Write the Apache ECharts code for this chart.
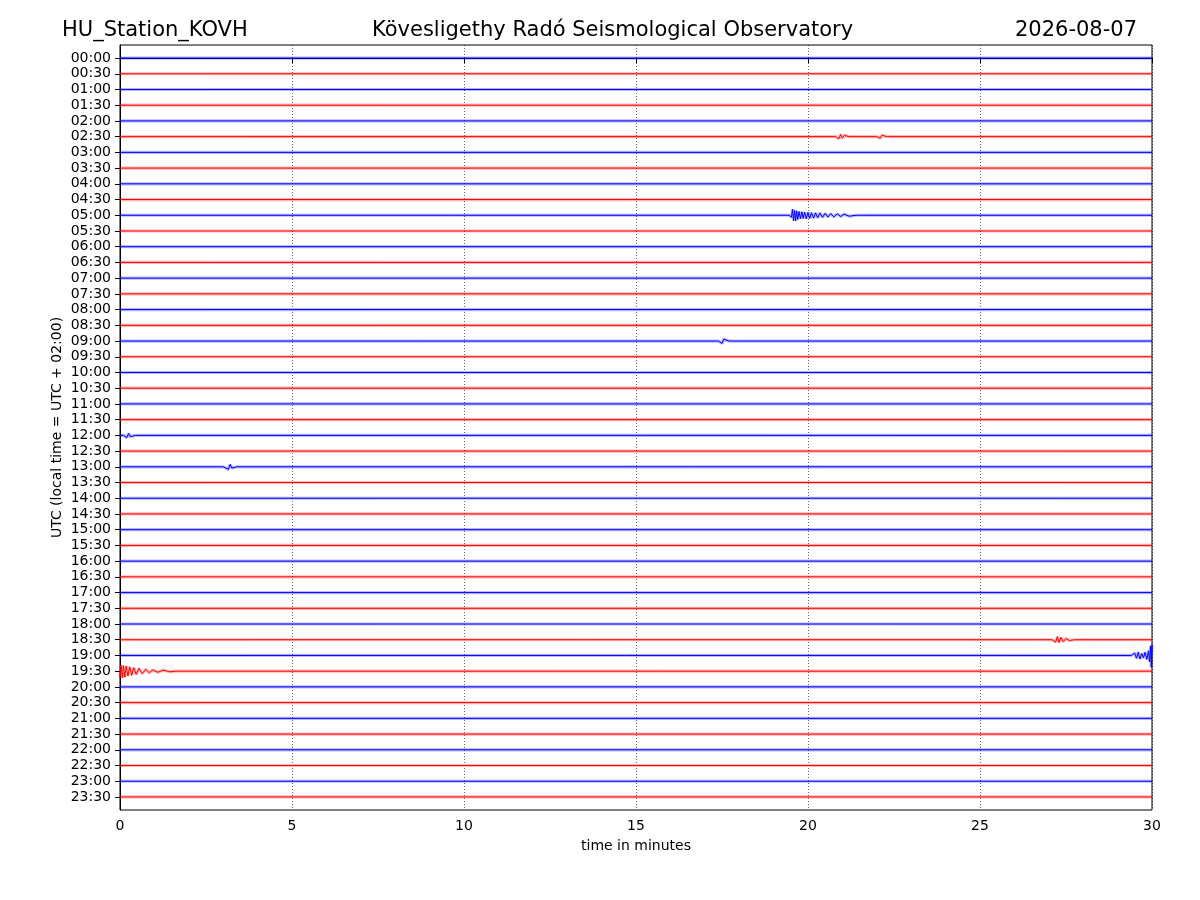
<!DOCTYPE html>
<html>
<head>
<meta charset="utf-8">
<script src="https://cdn.jsdelivr.net/npm/echarts@6/dist/echarts.min.js"></script>
<style>
  html, body { margin: 0; padding: 0; background: #fff; }
  #helicorder { width: 1200px; height: 900px; }
</style>
</head>
<body>
<div id="helicorder"></div>
<script>
// trace row labels (UTC start of each 30 min line)
var rowLabels = [
    '00:00', '00:30', '01:00', '01:30', '02:00', '02:30', '03:00', '03:30',
    '04:00', '04:30', '05:00', '05:30', '06:00', '06:30', '07:00', '07:30',
    '08:00', '08:30', '09:00', '09:30', '10:00', '10:30', '11:00', '11:30',
    '12:00', '12:30', '13:00', '13:30', '14:00', '14:30', '15:00', '15:30',
    '16:00', '16:30', '17:00', '17:30', '18:00', '18:30', '19:00', '19:30',
    '20:00', '20:30', '21:00', '21:30', '22:00', '22:30', '23:00', '23:30'
];
var xTicks = [0, 5, 10, 15, 20, 25, 30];

// visible wiggles, [minute, amplitude in trace-spacing units]
var ev0230 = [[20.8, 0], [20.9, 0.13], [20.95, -0.15], [21.0, 0.1], [21.05, -0.08], [21.2, 0],
    [22.0, 0], [22.1, 0.1], [22.15, -0.09], [22.3, 0]];
var ev0500 = [[19.45, 0], [19.52, 0.12], [19.55, -0.38], [19.58, 0.34], [19.61, -0.3], [19.64, 0.36],
    [19.67, -0.28], [19.7, 0.26], [19.74, -0.24], [19.78, 0.22], [19.82, -0.22], [19.86, 0.2],
    [19.9, -0.2], [19.95, 0.22], [20.0, -0.18], [20.05, 0.2], [20.1, -0.16], [20.16, 0.18],
    [20.22, -0.15], [20.28, 0.16], [20.35, -0.14], [20.42, 0.13], [20.5, -0.12], [20.58, 0.11],
    [20.66, -0.1], [20.75, 0.1], [20.85, -0.09], [20.95, 0.08], [21.05, -0.07], [21.2, 0.06], [21.4, 0]];
var ev0900 = [[17.4, 0], [17.5, 0.15], [17.55, -0.12], [17.7, 0]];
var ev1200 = [[0.1, 0], [0.2, 0.14], [0.25, -0.12], [0.3, 0.08], [0.45, 0]];
var ev1300 = [[3.0, 0], [3.15, 0.16], [3.2, -0.15], [3.25, 0.08], [3.4, 0]];
var ev1830 = [[27.1, 0], [27.2, 0.15], [27.25, -0.19], [27.3, 0.17], [27.35, -0.14], [27.42, 0.12],
    [27.5, -0.08], [27.6, 0.05], [27.75, 0]];
var ev1900 = [[29.4, 0], [29.45, 0.1], [29.5, -0.15], [29.55, 0.18], [29.6, -0.2], [29.65, 0.22],
    [29.7, -0.12], [29.75, 0.15], [29.8, -0.2], [29.85, 0.25], [29.9, -0.3], [29.93, 0.4],
    [29.96, -0.6], [29.98, 0.75], [30, -0.7]];
var ev1930 = [[0, 0.4], [0.03, -0.38], [0.07, 0.42], [0.1, -0.35], [0.14, 0.38], [0.18, -0.32],
    [0.23, 0.3], [0.28, -0.28], [0.34, 0.26], [0.4, -0.22], [0.47, 0.2], [0.55, -0.18],
    [0.65, 0.15], [0.75, -0.12], [0.85, 0.1], [0.95, -0.08], [1.1, 0.07], [1.25, -0.06],
    [1.45, 0.04], [1.6, 0]];

// which row each wiggle sits on
var eventRows = [[5, ev0230], [10, ev0500], [18, ev0900], [24, ev1200], [26, ev1300],
    [37, ev1830], [38, ev1900], [39, ev1930]];

var rowIndex = rowLabels.map(function (lab, i) { return i; });

var chart = echarts.init(document.getElementById('helicorder'), null, { renderer: 'canvas' });

function traceData(i) {
    var pts = [];
    eventRows.forEach(function (e) {
        if (e[0] === i) pts = e[1];
    });
    var data = [];
    if (!pts.length || pts[0][0] > 0) data.push([0, i]);
    pts.forEach(function (p) { data.push([p[0], i + p[1]]); });
    if (!pts.length || pts[pts.length - 1][0] < 30) data.push([30, i]);
    return data;
}

var series = [];
rowLabels.forEach(function (lab, i) {
    var col = i % 2 === 0 ? '#0000ff' : '#ff0000';
    var data = traceData(i);
    // soft band for the background noise
    series.push({
        name: lab + ' band',
        type: 'line',
        data: data,
        showSymbol: false,
        silent: true,
        animation: false,
        lineStyle: { color: col, width: 3.2, opacity: 0.28 }
    });
    series.push({
        name: lab,
        type: 'line',
        data: data,
        showSymbol: false,
        silent: true,
        animation: false,
        lineStyle: { color: col, width: 1 }
    });
});

var titleFont = { fontSize: 21, fontWeight: 'normal', color: '#000' };

var option = {
    backgroundColor: '#ffffff',
    textStyle: { fontFamily: 'DejaVu Sans' },
    title: [
        { text: 'HU_Station_KOVH', left: 57, top: 15, textStyle: titleFont },
        { text: 'Kövesligethy Radó Seismological Observatory', left: 367, top: 15, textStyle: titleFont },
        { text: '2026-08-07', right: 58, top: 15, textStyle: titleFont }
    ],
    grid: {
        left: 120, right: 48, top: 45, bottom: 90,
        show: true, borderColor: '#000', borderWidth: 1, backgroundColor: 'transparent'
    },
    xAxis: {
        type: 'value',
        min: xTicks[0],
        max: xTicks[xTicks.length - 1],
        interval: 5,
        name: 'time in minutes',
        nameLocation: 'middle',
        nameGap: 29,
        nameTextStyle: { fontSize: 14, color: '#000' },
        axisLine: { show: true, lineStyle: { color: '#000', width: 1 } },
        axisTick: { show: true, length: 5, lineStyle: { color: '#000' } },
        axisLabel: { fontSize: 14, color: '#000', margin: 9 },
        splitLine: { show: true, lineStyle: { color: '#000', type: [1, 2], width: 0.6 } }
    },
    yAxis: {
        type: 'value',
        inverse: true,
        min: -0.83,
        max: 47.83,
        name: 'UTC (local time = UTC + 02:00)',
        nameLocation: 'middle',
        nameGap: 56,
        nameMoveOverlap: false,
        nameTextStyle: { fontSize: 14, color: '#000' },
        axisLine: { show: true, lineStyle: { color: '#000', width: 1 } },
        axisTick: { show: true, length: 5, customValues: rowIndex, lineStyle: { color: '#000' } },
        axisLabel: {
            fontSize: 14, color: '#000', margin: 9,
            customValues: rowIndex,
            formatter: function (v) {
                var k = Math.round(v);
                return rowLabels[k] || '';
            }
        },
        splitLine: { show: false }
    },
    series: series
};
chart.setOption(option);
</script>
</body>
</html>
